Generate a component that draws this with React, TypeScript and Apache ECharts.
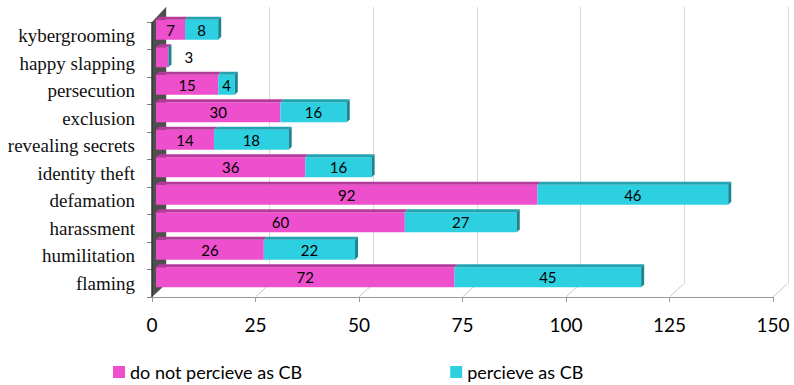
import React, { useEffect, useRef } from "react";
import * as echarts from "echarts";

const categories = [
  "flaming",
  "humilitation",
  "harassment",
  "defamation",
  "identity theft",
  "revealing secrets",
  "exclusion",
  "persecution",
  "happy slapping",
  "kybergrooming",
];
const notPerceive = [72, 26, 60, 92, 36, 14, 30, 15, 3, 7];
const perceive = [45, 22, 27, 46, 16, 18, 16, 4, 0, 8];
const xTicks = [0, 25, 50, 75, 100, 125, 150];
const seriesNames = ["do not percieve as CB", "percieve as CB"];

const PINK = "#ee4fcd";
const PINK_TOP = "#b63a9c";
const CYAN = "#2dd0e0";
const CYAN_TOP = "#22a3b1";
const CYAN_SIDE = "#1a8591";
const SANS = "Lato, 'Open Sans', sans-serif";
const SERIF = "'Liberation Serif', 'DejaVu Serif', serif";

const BAR_H = 20;
const DEPTH = 3;
const BACK_DX = 14;
const BACK_DY = 13;

export default function App() {
  const ref = useRef<HTMLDivElement>(null);
  useEffect(() => {
    const chart = echarts.init(ref.current!, null, { renderer: "svg" });

    const pinkData = notPerceive.map((v) =>
      v < 5 ? { value: v, label: { position: "right", distance: 16 } } : v
    );
    const decoData = categories.map((_, i) => [i, notPerceive[i], perceive[i]]);

    const option: any = {
      animation: false,
      backgroundColor: "#ffffff",
      legend: {
        data: seriesNames,
        left: 113,
        top: 362,
        padding: 0,
        icon: "rect",
        itemWidth: 12,
        itemHeight: 12,
        itemGap: 148,
        textStyle: { fontFamily: SANS, fontSize: 18, color: "#000", lineHeight: 20 },
      },
      grid: [
        { left: 152, right: 21, top: 22, bottom: 88 },
        { left: 156, right: 16, top: 16, bottom: 94 },
        { left: 166, right: 6, top: 7, bottom: 101 },
      ],
      xAxis: [
        {
          gridIndex: 0,
          type: "value",
          min: 0,
          max: 150,
          interval: 25,
          axisLine: { show: true, lineStyle: { color: "#9a9a9a", width: 1 } },
          axisTick: { show: true, length: 5, lineStyle: { color: "#9a9a9a" } },
          axisLabel: {
            fontFamily: SANS,
            fontSize: 19,
            color: "#000",
            margin: 18,
          },
          splitLine: { show: false },
        },
        {
          gridIndex: 1,
          type: "value",
          min: 0,
          max: 150,
          interval: 25,
          show: false,
        },
        {
          gridIndex: 2,
          type: "value",
          min: 0,
          max: 150,
          interval: 25,
          axisLine: { show: false },
          axisTick: { show: false },
          axisLabel: { show: false },
          splitLine: { show: true, lineStyle: { color: "#d9d9d9", width: 1 } },
        },
      ],
      yAxis: [
        {
          gridIndex: 0,
          type: "category",
          data: categories,
          axisLine: { show: false },
          axisTick: { show: true, length: 5, lineStyle: { color: "#7f7f7f" } },
          axisLabel: {
            fontFamily: SERIF,
            fontSize: 19,
            color: "#111",
            margin: 17,
          },
        },
        {
          gridIndex: 1,
          type: "category",
          data: categories,
          show: false,
        },
        {
          gridIndex: 2,
          type: "category",
          data: categories,
          show: false,
        },
      ],
      series: [
        {
          type: "custom",
          xAxisIndex: 0,
          yAxisIndex: 0,
          z: 1,
          silent: true,
          clip: false,
          data: [[0, 0]],
          renderItem: (params: any, api: any) => {
            const cs = params.coordSys;
            const x = cs.x;
            const y = cs.y;
            const h = cs.height;
            return {
              type: "group",
              children: [
                {
                  type: "polygon",
                  shape: {
                    points: [
                      [x, y],
                      [x + BACK_DX, y - 15],
                      [x + BACK_DX, y + h - BACK_DY],
                      [x, y + h],
                    ],
                  },
                  style: { fill: "#4f4f4f" },
                },
                {
                  type: "line",
                  shape: { x1: x, y1: y, x2: x, y2: y + h },
                  style: { stroke: "#333", lineWidth: 1.5 },
                },
              ],
            };
          },
        },
        {
          type: "custom",
          xAxisIndex: 0,
          yAxisIndex: 0,
          z: 1,
          silent: true,
          clip: false,
          data: xTicks.filter((v) => v > 0).map((v) => [v, 0]),
          renderItem: (params: any, api: any) => {
            const cs = params.coordSys;
            const px = api.coord([api.value(0), 0])[0];
            const yb = cs.y + cs.height;
            return {
              type: "line",
              shape: { x1: px, y1: yb, x2: px + BACK_DX, y2: yb - BACK_DY },
              style: { stroke: "#c8c8c8", lineWidth: 1 },
            };
          },
        },
        {
          name: seriesNames[0],
          type: "bar",
          stack: "total",
          xAxisIndex: 1,
          yAxisIndex: 1,
          barWidth: BAR_H,
          z: 3,
          itemStyle: { color: PINK },
          label: {
            show: true,
            position: "inside",
            fontFamily: SANS,
            fontSize: 15,
            color: "#000",
            formatter: (p: any) => (p.value ? String(p.value) : ""),
          },
          data: pinkData,
        },
        {
          name: seriesNames[1],
          type: "bar",
          stack: "total",
          xAxisIndex: 1,
          yAxisIndex: 1,
          barWidth: BAR_H,
          z: 3,
          itemStyle: { color: CYAN },
          label: {
            show: true,
            position: "inside",
            fontFamily: SANS,
            fontSize: 15,
            color: "#000",
            formatter: (p: any) => (p.value ? String(p.value) : ""),
          },
          data: perceive,
        },
        {
          type: "custom",
          xAxisIndex: 1,
          yAxisIndex: 1,
          z: 4,
          silent: true,
          clip: false,
          data: decoData,
          renderItem: (params: any, api: any) => {
            const i = api.value(0);
            const a = api.value(1);
            const b = api.value(2);
            const p0 = api.coord([0, i]);
            const p1 = api.coord([a, i]);
            const p2 = api.coord([a + b, i]);
            const yTop = p0[1] - BAR_H / 2;
            const yBot = p0[1] + BAR_H / 2;
            const children: any[] = [
              {
                type: "polygon",
                shape: {
                  points: [
                    [p0[0], yTop],
                    [p0[0] + DEPTH, yTop - DEPTH],
                    [p1[0] + DEPTH, yTop - DEPTH],
                    [p1[0], yTop],
                  ],
                },
                style: { fill: PINK_TOP },
              },
            ];
            if (b > 0) {
              children.push({
                type: "polygon",
                shape: {
                  points: [
                    [p1[0], yTop],
                    [p1[0] + DEPTH, yTop - DEPTH],
                    [p2[0] + DEPTH, yTop - DEPTH],
                    [p2[0], yTop],
                  ],
                },
                style: { fill: CYAN_TOP },
              });
            }
            children.push({
              type: "polygon",
              shape: {
                points: [
                  [p2[0], yTop],
                  [p2[0] + DEPTH, yTop - DEPTH],
                  [p2[0] + DEPTH, yBot - DEPTH],
                  [p2[0], yBot],
                ],
              },
              style: { fill: CYAN_SIDE },
            });
            return { type: "group", children };
          },
        },
      ],
    };

    chart.setOption(option);
    return () => chart.dispose();
  }, []);

  return (
    <div
      ref={ref}
      style={{ position: "absolute", left: 0, top: 0, width: 794, height: 385 }}
    />
  );
}
